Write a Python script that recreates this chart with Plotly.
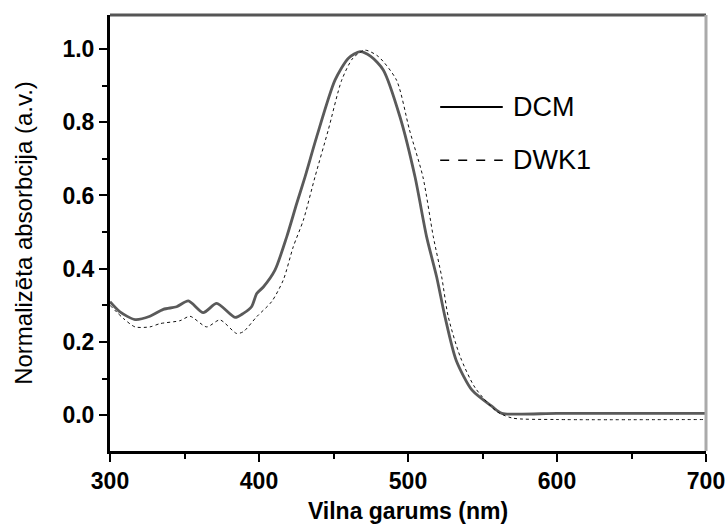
import plotly.graph_objects as go

# DCM series
dcm_nm = [300, 306.7, 316.8, 326.8, 335.8, 344.7, 352.6, 362.6, 371.6, 383.9, 389.5, 395,
          398.5, 402.9, 410.7, 418.6, 425.3, 430.9, 438.7, 451, 460, 467.8, 475, 483.4,
          494.6, 504.7, 512.5, 519.2, 524.8, 532.3, 543, 556.6, 563, 600, 650, 700]
dcm_val = [0.31, 0.282, 0.261, 0.27, 0.289, 0.296, 0.312, 0.28, 0.305, 0.267, 0.278, 0.296,
           0.332, 0.35, 0.396, 0.487, 0.578, 0.651, 0.76, 0.915, 0.975, 0.993, 0.98, 0.943,
           0.815, 0.651, 0.487, 0.378, 0.269, 0.15, 0.068, 0.023, 0.005, 0.005, 0.005, 0.005]

# DWK1 series
dwk_nm = [300, 309, 316.8, 326.8, 333.6, 347, 353.7, 364.9, 373.8, 385, 389.5, 398.5,
          408.5, 416.3, 423, 429.8, 437.6, 446.5, 455.5, 463, 471, 480, 492.3, 501, 510,
          517, 522.6, 527, 535, 545, 559.5, 570, 600, 700]
dwk_val = [0.30, 0.264, 0.241, 0.241, 0.25, 0.258, 0.27, 0.241, 0.26, 0.223, 0.228, 0.269,
           0.31, 0.369, 0.46, 0.533, 0.651, 0.779, 0.915, 0.975, 0.997, 0.98, 0.915, 0.779, 0.651,
           0.487, 0.378, 0.269, 0.16, 0.075, 0.01, -0.008, -0.012, -0.012]

x_ticks = [300, 400, 500, 600, 700]
y_ticks = [0.0, 0.2, 0.4, 0.6, 0.8, 1.0]
y_tick_text = ["0.0", "0.2", "0.4", "0.6", "0.8", "1.0"]
legend_names = ["DCM", "DWK1"]

FONT = "Liberation Sans, Arial, sans-serif"

fig = go.Figure()
fig.add_trace(go.Scatter(x=dcm_nm, y=dcm_val, mode="lines", name=legend_names[0],
                         line=dict(color="#5a5a5a", width=2.8, shape="spline", smoothing=0.7),
                         showlegend=False))
fig.add_trace(go.Scatter(x=dwk_nm, y=dwk_val, mode="lines", name=legend_names[1],
                         line=dict(color="#111111", width=1, dash="dot", shape="spline", smoothing=0.7),
                         showlegend=False))

# manual legend
fig.add_shape(type="line", xref="paper", yref="paper", x0=0.554, x1=0.659, y0=0.789, y1=0.789,
              line=dict(color="black", width=2))
fig.add_shape(type="line", xref="paper", yref="paper", x0=0.554, x1=0.659, y0=0.667, y1=0.667,
              line=dict(color="black", width=1.5, dash="dash"))
fig.add_annotation(xref="paper", yref="paper", x=0.672, y=0.789, text=legend_names[0],
                   showarrow=False, xanchor="left", yanchor="middle",
                   font=dict(family=FONT, size=27, color="black"))
fig.add_annotation(xref="paper", yref="paper", x=0.672, y=0.667, text=legend_names[1],
                   showarrow=False, xanchor="left", yanchor="middle",
                   font=dict(family=FONT, size=27, color="black"))

# top and right frame lines
fig.add_shape(type="line", xref="paper", yref="paper", x0=0, x1=1, y0=1, y1=1,
              line=dict(color="#555555", width=3))
fig.add_shape(type="line", xref="paper", yref="paper", x0=1, x1=1, y0=0, y1=1,
              line=dict(color="#aaaaaa", width=3))

fig.update_layout(
    width=728, height=524,
    margin=dict(l=110, r=22, t=15, b=73),
    paper_bgcolor="white", plot_bgcolor="white",
    font=dict(family=FONT, color="black"),
    showlegend=False,
)
fig.update_xaxes(
    range=[300, 700], tickvals=x_ticks, ticktext=[str(v) for v in x_ticks],
    automargin=False,
    showgrid=False, zeroline=False,
    showline=True, linecolor="black", linewidth=3,
    ticks="outside", ticklen=8, tickwidth=2, tickcolor="black",
    ticklabelstandoff=-1,
    minor=dict(tickvals=[350, 450, 550, 650], ticks="outside", ticklen=5, tickwidth=1.5, tickcolor="black"),
    tickfont=dict(family=FONT, size=23, color="black", weight="bold"),
    title=dict(text="Vilna garums (nm)", font=dict(family=FONT, size=23, color="black", weight="bold"), standoff=11),
)
fig.update_yaxes(
    range=[-0.098, 1.093], tickvals=y_ticks, ticktext=y_tick_text,
    automargin=False,
    showgrid=False, zeroline=False,
    showline=True, linecolor="black", linewidth=3,
    ticks="outside", ticklen=8, tickwidth=2, tickcolor="black",
    ticklabelstandoff=0,
    minor=dict(tickvals=[0.1, 0.3, 0.5, 0.7, 0.9], ticks="outside", ticklen=5, tickwidth=1.5, tickcolor="black"),
    tickfont=dict(family=FONT, size=23, color="black", weight="bold"),
    title=dict(text="Normalizēta absorbcija (a.v.)", font=dict(family=FONT, size=24, color="black"), standoff=24),
)

fig.write_html("out.html")
